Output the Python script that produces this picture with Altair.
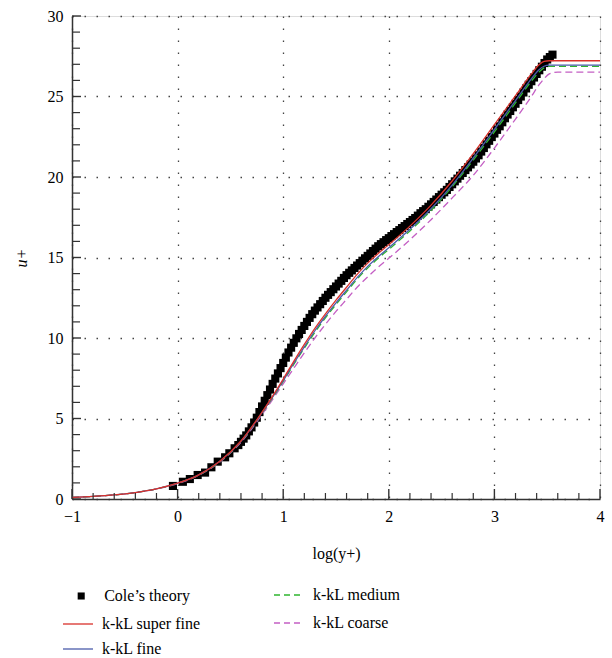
import altair as alt
import pandas as pd

FONT = "Liberation Serif"

# ---- Cole's theory (black squares) ----
cole_x = [-0.044, 0.05, 0.116, 0.19, 0.26, 0.32, 0.38, 0.45, 0.49, 0.54, 0.575,
          0.600, 0.625, 0.650, 0.675, 0.700, 0.725, 0.750, 0.775, 0.800, 0.825,
          0.850, 0.875, 0.900, 0.925, 0.950, 0.975, 1.000, 1.025, 1.050, 1.075,
          1.100, 1.125, 1.150, 1.175, 1.200, 1.225, 1.250, 1.275, 1.300, 1.325,
          1.350, 1.375, 1.400, 1.425, 1.450, 1.475, 1.500, 1.525, 1.550, 1.575,
          1.600, 1.625, 1.650, 1.675, 1.700, 1.725, 1.750, 1.775, 1.800, 1.825,
          1.850, 1.875, 1.900, 1.925, 1.950, 1.975, 2.000, 2.025, 2.050, 2.075,
          2.100, 2.125, 2.150, 2.175, 2.200, 2.225, 2.250, 2.275, 2.300, 2.325,
          2.350, 2.375, 2.400, 2.425, 2.450, 2.475, 2.500, 2.525, 2.550, 2.575,
          2.600, 2.625, 2.650, 2.675, 2.700, 2.725, 2.750, 2.775, 2.800, 2.825,
          2.850, 2.875, 2.900, 2.925, 2.950, 2.975, 3.000, 3.025, 3.050, 3.075,
          3.100, 3.125, 3.150, 3.175, 3.200, 3.225, 3.250, 3.275, 3.300, 3.325,
          3.350, 3.375, 3.400, 3.425, 3.450, 3.475, 3.500, 3.525, 3.550]
cole_u = [0.81, 1.07, 1.24, 1.49, 1.64, 1.97, 2.32, 2.59, 2.84, 3.15, 3.35,
          3.55, 3.75, 3.95, 4.20, 4.45, 4.75, 5.05, 5.40, 5.75, 6.10,
          6.45, 6.80, 7.15, 7.48, 7.80, 8.13, 8.45, 8.78, 9.10, 9.40,
          9.70, 9.98, 10.25, 10.50, 10.75, 11.00, 11.25, 11.48, 11.70, 11.90,
          12.10, 12.30, 12.50, 12.68, 12.85, 13.03, 13.20, 13.38, 13.55, 13.73,
          13.90, 14.05, 14.20, 14.35, 14.50, 14.65, 14.80, 14.95, 15.10, 15.25,
          15.40, 15.55, 15.70, 15.83, 15.95, 16.08, 16.20, 16.33, 16.45, 16.58,
          16.70, 16.83, 16.95, 17.08, 17.20, 17.33, 17.45, 17.60, 17.75, 17.88,
          18.00, 18.15, 18.30, 18.45, 18.60, 18.75, 18.90, 19.05, 19.20, 19.38,
          19.55, 19.73, 19.90, 20.08, 20.25, 20.43, 20.60, 20.78, 20.95, 21.15,
          21.35, 21.58, 21.80, 22.03, 22.25, 22.48, 22.70, 22.93, 23.15, 23.40,
          23.65, 23.88, 24.10, 24.33, 24.55, 24.78, 25.00, 25.25, 25.50, 25.73,
          25.95, 26.18, 26.40, 26.63, 26.85, 27.08, 27.30, 27.45, 27.60]

# ---- k-kL simulations ----
line_x = [-1.0, -0.8, -0.6, -0.4, -0.2, 0.0, 0.2, 0.4, 0.6, 0.8, 1.0, 1.1, 1.2,
          1.3, 1.4, 1.5, 1.6, 1.7, 1.8, 1.9, 2.0, 2.2, 2.4, 2.6, 2.8, 3.0, 3.2,
          3.35, 3.42, 3.47, 3.52, 3.6, 4.0]
u_super_fine = [0.10, 0.16, 0.25, 0.40, 0.63, 0.98, 1.50, 2.35, 3.60, 5.40, 7.45,
                8.55, 9.60, 10.60, 11.50, 12.35, 13.15, 13.95, 14.65, 15.25, 15.80,
                16.95, 18.25, 19.75, 21.45, 23.25, 25.05, 26.40, 26.95, 27.18,
                27.22, 27.22, 27.22]
u_fine = [0.10, 0.16, 0.25, 0.40, 0.63, 0.98, 1.50, 2.34, 3.58, 5.36, 7.35, 8.43,
          9.45, 10.45, 11.35, 12.18, 12.97, 13.75, 14.45, 15.05, 15.60, 16.75,
          18.03, 19.50, 21.18, 22.95, 24.75, 26.10, 26.65, 26.88, 26.95, 26.95,
          26.95]
u_medium = [0.10, 0.16, 0.25, 0.40, 0.63, 0.98, 1.49, 2.33, 3.57, 5.34, 7.30, 8.36,
            9.37, 10.35, 11.25, 12.08, 12.87, 13.65, 14.35, 14.95, 15.50, 16.65,
            17.92, 19.40, 21.05, 22.80, 24.60, 25.95, 26.50, 26.78, 26.87, 26.87,
            26.87]
u_coarse = [0.10, 0.16, 0.25, 0.40, 0.62, 0.96, 1.47, 2.30, 3.52, 5.25, 7.15, 8.12,
            9.08, 10.00, 10.85, 11.65, 12.40, 13.15, 13.80, 14.40, 14.95, 16.10,
            17.35, 18.70, 20.10, 21.80, 23.60, 25.00, 25.70, 26.10, 26.40, 26.52,
            26.52]

# ---- axis ticks ----
x_major_ticks = [-1, 0, 1, 2, 3, 4]
x_minor_ticks = [-0.8, -0.6, -0.4, -0.2, 0.2, 0.4, 0.6, 0.8, 1.2, 1.4, 1.6, 1.8,
                 2.2, 2.4, 2.6, 2.8, 3.2, 3.4, 3.6, 3.8]
y_major_ticks = [0, 5, 10, 15, 20, 25, 30]
y_minor_ticks = [1, 2, 3, 4, 6, 7, 8, 9, 11, 12, 13, 14, 16, 17, 18, 19,
                 21, 22, 23, 24, 26, 27, 28, 29]

W, H = 528, 483
xs = alt.Scale(domain=[-1, 4], nice=False, zero=False)
ys = alt.Scale(domain=[0, 30], nice=False, zero=False)

X_AXIS = alt.Axis(
    values=x_major_ticks, title="log(y+)", grid=True, gridDash=[1.5, 10.5],
    gridColor="#444", gridWidth=1.3, ticks=False, labelPadding=9,
    labelFlush=False, domainColor="#333", domainWidth=1.5,
    labelFont=FONT, labelFontSize=16, labelColor="black",
    titleFont=FONT, titleFontSize=16, titleFontWeight="normal",
    titleColor="black", titlePadding=21)
Y_AXIS = alt.Axis(
    values=y_major_ticks, title="u+", grid=True, gridDash=[1.5, 10.5],
    gridColor="#444", gridWidth=1.3, ticks=False, labelPadding=9,
    domainColor="#333", domainWidth=1.5,
    labelFont=FONT, labelFontSize=16, labelColor="black",
    titleFont=FONT, titleFontSize=16, titleFontWeight="normal",
    titleFontStyle="italic", titleColor="black", titlePadding=18)


def legend(lx, ly, stype, size, offset, dash=None):
    kw = dict(orient="none", legendX=lx, legendY=ly, title=None,
              symbolType=stype, symbolSize=size, symbolStrokeWidth=1.3,
              labelFont=FONT, labelFontSize=16, labelColor="black",
              labelOffset=offset, padding=0)
    if dash is not None:
        kw["symbolDash"] = dash
    return alt.Legend(**kw)


cole_df = pd.DataFrame({"x": cole_x, "u": cole_u, "s": "Cole\u2019s theory"})
cole = alt.Chart(cole_df).mark_square(size=66, opacity=1, filled=True).encode(
    x=alt.X("x:Q", scale=xs, axis=X_AXIS),
    y=alt.Y("u:Q", scale=ys, axis=Y_AXIS),
    color=alt.Color("s:N", scale=alt.Scale(domain=["Cole\u2019s theory"], range=["black"]),
                    legend=legend(1.2, 572, "square", 50, 15)),
)


def line_layer(name, vals, col, lx, ly, dash=None):
    df = pd.DataFrame({"x": line_x, "u": vals, "s": name})
    mk = dict(strokeWidth=1.3, interpolate="monotone")
    if dash is not None:
        mk["strokeDash"] = dash
    return alt.Chart(df).mark_line(**mk).encode(
        x=alt.X("x:Q", scale=xs, axis=X_AXIS),
        y=alt.Y("u:Q", scale=ys, axis=Y_AXIS),
        color=alt.Color("s:N", scale=alt.Scale(domain=[name], range=[col]),
                        legend=legend(lx, ly, "stroke", 900, 8,
                                      [6, 4] if dash is not None else None)),
    )


coarse = line_layer("k-kL coarse", u_coarse, "#c45fc4", 201, 591, [7, 4])
medium = line_layer("k-kL medium", u_medium, "#2fb52f", 201, 563, [7, 4])
fine = line_layer("k-kL fine", u_fine, "#4b5bab", -10, 617)
sfine = line_layer("k-kL super fine", u_super_fine, "#d9312b", -10, 592)

xt_major = alt.Chart(pd.DataFrame({"x": x_major_ticks})).mark_rule(
    color="#333", strokeWidth=1.4).encode(
    x=alt.X("x:Q", scale=xs, axis=X_AXIS), y=alt.value(H), y2=alt.value(H - 10))
xt_minor = alt.Chart(pd.DataFrame({"x": x_minor_ticks})).mark_rule(
    color="#333", strokeWidth=1.2).encode(
    x=alt.X("x:Q", scale=xs, axis=X_AXIS), y=alt.value(H), y2=alt.value(H - 6))
yt_major = alt.Chart(pd.DataFrame({"u": y_major_ticks})).mark_rule(
    color="#333", strokeWidth=1.4).encode(
    y=alt.Y("u:Q", scale=ys, axis=Y_AXIS), x=alt.value(0), x2=alt.value(9))
yt_minor = alt.Chart(pd.DataFrame({"u": y_minor_ticks})).mark_rule(
    color="#333", strokeWidth=1.2).encode(
    y=alt.Y("u:Q", scale=ys, axis=Y_AXIS), x=alt.value(0), x2=alt.value(8))

chart = alt.layer(
    cole, coarse, medium, fine, sfine, xt_major, xt_minor, yt_major, yt_minor
).resolve_scale(color="independent").properties(
    width=W, height=H,
    autosize=alt.AutoSizeParams(type="none"),
    padding={"left": 72, "top": 16, "right": 12, "bottom": 159},
).configure_view(stroke="#333", strokeWidth=1.2).configure(background="white")

chart.save("out.html", embed_options={"renderer": "svg", "actions": False})
